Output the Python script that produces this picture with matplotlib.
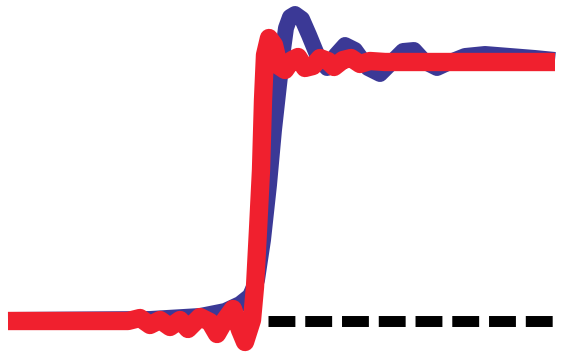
import matplotlib
matplotlib.use("Agg")
import matplotlib.pyplot as plt

# points (pixel-like units, y grows downward)
blue_x = [8, 150, 200, 225, 240, 250, 257, 263, 269, 274, 279, 283, 286, 290, 295, 302,
          309, 318, 327, 336, 345, 355, 368, 380, 392, 403, 414, 425, 437, 450, 465, 485,
          510, 535, 555]
blue_y = [320, 319, 316, 311, 304, 296, 280, 240, 185, 130, 85, 50, 28, 17, 14, 19,
          35, 57, 68, 55, 45, 50, 68, 74, 62, 51, 50, 62, 68, 62, 56, 54,
          56, 58, 60]

red_x = [8, 128, 140, 150, 160, 170, 180, 188, 200, 210, 217, 225, 233, 240, 245, 252,
         255, 258, 261, 263, 265, 269, 274, 279, 285, 292, 298, 305, 313, 320, 328, 334,
         343, 351, 360, 370, 385, 420, 555]
red_y = [321, 321, 318, 325, 320, 327, 320, 329, 317, 322, 334, 320, 309, 330, 342, 320,
         287, 230, 170, 100, 55, 38, 45, 66, 70, 60, 57, 68, 66, 58, 61, 67,
         60, 58, 64, 61, 62, 62, 62]

ref_x = [268, 555]
ref_y = [321, 321]

fig = plt.figure(figsize=(5.61, 3.58), dpi=100)
ax = fig.add_axes([0, 0, 1, 1])
ax.set_xlim(0, 561)
ax.set_ylim(358, 0)
ax.axis("off")

ax.plot(ref_x, ref_y, color="black", lw=7.9, dashes=(2.45, 0.9), solid_capstyle="butt",
        dash_capstyle="butt")
ax.plot(blue_x, blue_y, color="#3b3996", lw=11.5, solid_joinstyle="round",
        solid_capstyle="butt")
ax.plot(red_x, red_y, color="#f0202e", lw=13.2, solid_joinstyle="round",
        solid_capstyle="butt")

fig.savefig("out.png", dpi=100)
